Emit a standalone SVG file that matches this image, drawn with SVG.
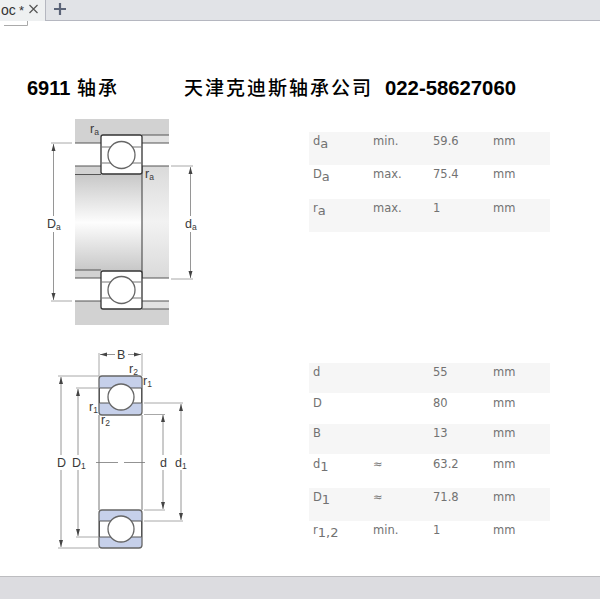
<svg xmlns="http://www.w3.org/2000/svg" width="600" height="599" viewBox="0 0 600 599">
<defs>
<linearGradient id="shaft" x1="0" y1="0" x2="0" y2="1"><stop offset="0" stop-color="#c8c8c8"/><stop offset="0.5" stop-color="#fdfdfd"/><stop offset="1" stop-color="#c8c8c8"/></linearGradient>
<linearGradient id="shaftR" x1="0" y1="0" x2="0" y2="1"><stop offset="0" stop-color="#dadada"/><stop offset="0.5" stop-color="#f2f2f2"/><stop offset="1" stop-color="#dadada"/></linearGradient>
<marker id="a" markerWidth="8" markerHeight="6" refX="7" refY="3" orient="auto-start-reverse" markerUnits="userSpaceOnUse"><path d="M0 1 L7 3 L0 5Z" fill="#444"/></marker>
</defs>
<style>
.h{font-family:"Liberation Sans",sans-serif;font-size:12.5px;fill:#3a3a3a}
.s{font-size:8.500px}
.t{font-family:"DejaVu Sans",Verdana,sans-serif;font-size:11.500px;fill:#727272}
.sub{font-size:13px}
.cn{font-family:"Noto Sans CJK SC",sans-serif;font-size:19px;font-weight:500;fill:#000;letter-spacing:2px}
.num{font-family:"Liberation Sans",sans-serif;font-size:20px;font-weight:700;fill:#000}
.band{fill:#f6f6f6}
.o{fill:none;stroke:#555;stroke-width:1.200}
.thin{fill:none;stroke:#777;stroke-width:1}
.dim{fill:none;stroke:#a8a8a8;stroke-width:1}
line.dl{stroke:#8a8a8a;stroke-width:.9;marker-start:url(#a)}
.ball{fill:#fff;stroke:#666;stroke-width:1.300}
.ring{fill:#fff;stroke:#333;stroke-width:1.300}
.blue{fill:#c6d0ea;stroke:#666;stroke-width:1.300}
</style>
<rect width="600" height="599" fill="#fff"/>
<g id="chrome">
<rect width="600" height="20.500" fill="#e1e3e7"/>
<rect x="45" y="20" width="555" height="1" fill="#b5b7c0"/>
<rect width="45" height="21" fill="#eef0f1"/>
<rect x="45" width="1" height="21" fill="#b5b7c0"/>
<text x="1" y="15" font-family="Liberation Sans,sans-serif" font-size="14" fill="#333">oc</text>
<text x="19" y="15" font-family="Liberation Sans,sans-serif" font-size="13" fill="#333">*</text>
<path d="M29.500 5 L37.500 13 M37.500 5 L29.500 13" stroke="#555" stroke-width="1.200" fill="none"/>
<path d="M60 3 V15 M54 9 H66" stroke="#5b6478" stroke-width="2.200" fill="none"/>
<path d="M4 25.500 H27.500 V21" stroke="#aaa" fill="none"/>
<rect y="576" width="600" height="23" fill="#dcdce0"/>
<rect y="576" width="600" height="1" fill="#bdbdc0"/>
</g>
<g id="title">
<text class="num" x="27" y="95">6911</text>
<text class="cn" x="77" y="95">轴承</text>
<text class="cn" x="184" y="95">天津克迪斯轴承公司</text>
<text class="num" x="385" y="95" textLength="131" lengthAdjust="spacingAndGlyphs">022-58627060</text>
</g>
<g id="mounting-drawing">
<rect x="75" y="119" width="94" height="206" fill="#d2d2d2"/>
<rect x="75" y="143" width="94" height="23" fill="#fff"/>
<rect x="75" y="278" width="94" height="23" fill="#fff"/>
<rect x="142" y="135" width="27" height="8" fill="#e2e2e2"/>
<rect x="142" y="301" width="27" height="8" fill="#e2e2e2"/>
<rect x="75" y="175" width="67" height="95" fill="url(#shaft)"/>
<rect x="142" y="166" width="27" height="112" fill="url(#shaftR)"/>
<path class="o" d="M75 143H101M75 166H101M75 174.500H101M75 270H101M75 278H101M75 301H101M142 135H169M142 143H169M142 166H169M142 278H169M142 301H169M142 309H169M142 166V278"/>
<rect class="ring" x="101" y="135" width="41" height="39" rx="2"/>
<rect class="ring" x="101" y="271" width="41" height="38" rx="2"/>
<path class="thin" d="M101 147H142M101 163H142M101 282H142M101 298H142"/>
<circle class="ball" cx="121.500" cy="155" r="13.500"/>
<circle class="ball" cx="121.500" cy="290" r="13.500"/>
<path class="dim" d="M51 143H72M171 166H193M51 301H72M171 279H193"/>
<line class="dl" x1="53.500" y1="144" x2="53.500" y2="216"/>
<line class="dl" x1="53.500" y1="300" x2="53.500" y2="232"/>
<line class="dl" x1="190.500" y1="167" x2="190.500" y2="216"/>
<line class="dl" x1="190.500" y1="278" x2="190.500" y2="232"/>
<text class="h" x="47" y="228">D<tspan class="s" dy="2">a</tspan></text>
<text class="h" x="185" y="228">d<tspan class="s" dy="2">a</tspan></text>
<text class="h" x="90" y="133">r<tspan class="s" dy="2">a</tspan></text>
<text class="h" x="145" y="178">r<tspan class="s" dy="2">a</tspan></text>
</g>
<g id="bearing-drawing">
<path class="thin" d="M99 415V510M142 415V510"/>
<rect class="blue" x="99" y="376" width="43" height="39" rx="3"/>
<rect class="blue" x="99" y="510" width="43" height="38" rx="3"/>
<path d="M99.500 388H141.500V403H99.500ZM99.500 521H141.500V537H99.500Z" fill="#fff" stroke="#555"/>
<circle class="ball" cx="121" cy="397" r="13"/>
<circle class="ball" cx="121" cy="529" r="13"/>
<path class="dim" d="M99 353V376M142 353V376M58 376H99M58 548H99M76 388H98M76 537H98M144 403H183M144 521H183M144 414.500H165M144 510H165"/>
<path d="M96 462.500H118M124 462.500H145" stroke="#777" stroke-width=".8" fill="none"/>
<line class="dl" x1="100" y1="354.500" x2="115" y2="354.500"/>
<line class="dl" x1="141" y1="354.500" x2="128" y2="354.500"/>
<line class="dl" x1="61" y1="377" x2="61" y2="455"/>
<line class="dl" x1="61" y1="547" x2="61" y2="470"/>
<line class="dl" x1="78" y1="389" x2="78" y2="455"/>
<line class="dl" x1="78" y1="536" x2="78" y2="470"/>
<line class="dl" x1="163" y1="415" x2="163" y2="455"/>
<line class="dl" x1="163" y1="509" x2="163" y2="470"/>
<line class="dl" x1="181" y1="404" x2="181" y2="455"/>
<line class="dl" x1="181" y1="520" x2="181" y2="470"/>
<text class="h" x="117" y="359">B</text>
<text class="h" x="129" y="373">r<tspan class="s" dy="2">2</tspan></text>
<text class="h" x="143" y="385">r<tspan class="s" dy="2">1</tspan></text>
<text class="h" x="89" y="411">r<tspan class="s" dy="2">1</tspan></text>
<text class="h" x="101" y="424">r<tspan class="s" dy="2">2</tspan></text>
<text class="h" x="57" y="467">D</text>
<text class="h" x="72" y="467">D<tspan class="s" dy="2">1</tspan></text>
<text class="h" x="160" y="467">d</text>
<text class="h" x="175" y="467">d<tspan class="s" dy="2">1</tspan></text>
</g>
<g id="table-top">
<rect class="band" x="309" y="132" width="241" height="33"/>
<rect class="band" x="309" y="199" width="241" height="33"/>
<text class="t" x="313" y="145">d<tspan class="sub" dy="3">a</tspan></text><text class="t" x="373" y="145">min.</text><text class="t" x="433" y="145">59.6</text><text class="t" x="493" y="145">mm</text>
<text class="t" x="313" y="178">D<tspan class="sub" dy="3">a</tspan></text><text class="t" x="373" y="178">max.</text><text class="t" x="433" y="178">75.4</text><text class="t" x="493" y="178">mm</text>
<text class="t" x="313" y="212">r<tspan class="sub" dy="3">a</tspan></text><text class="t" x="373" y="212">max.</text><text class="t" x="433" y="212">1</text><text class="t" x="493" y="212">mm</text>
</g>
<g id="table-bottom">
<rect class="band" x="309" y="363" width="241" height="30"/>
<rect class="band" x="309" y="424" width="241" height="30"/>
<rect class="band" x="309" y="488" width="241" height="33"/>
<text class="t" x="313" y="376">d</text><text class="t" x="433" y="376">55</text><text class="t" x="493" y="376">mm</text>
<text class="t" x="313" y="407">D</text><text class="t" x="433" y="407">80</text><text class="t" x="493" y="407">mm</text>
<text class="t" x="313" y="437">B</text><text class="t" x="433" y="437">13</text><text class="t" x="493" y="437">mm</text>
<text class="t" x="313" y="468">d<tspan class="sub" dy="3">1</tspan></text><text class="t" x="373" y="468">≈</text><text class="t" x="433" y="468">63.2</text><text class="t" x="493" y="468">mm</text>
<text class="t" x="313" y="501">D<tspan class="sub" dy="3">1</tspan></text><text class="t" x="373" y="501">≈</text><text class="t" x="433" y="501">71.8</text><text class="t" x="493" y="501">mm</text>
<text class="t" x="313" y="534">r<tspan class="sub" dy="3">1,2</tspan></text><text class="t" x="373" y="534">min.</text><text class="t" x="433" y="534">1</text><text class="t" x="493" y="534">mm</text>
</g>
</svg>
